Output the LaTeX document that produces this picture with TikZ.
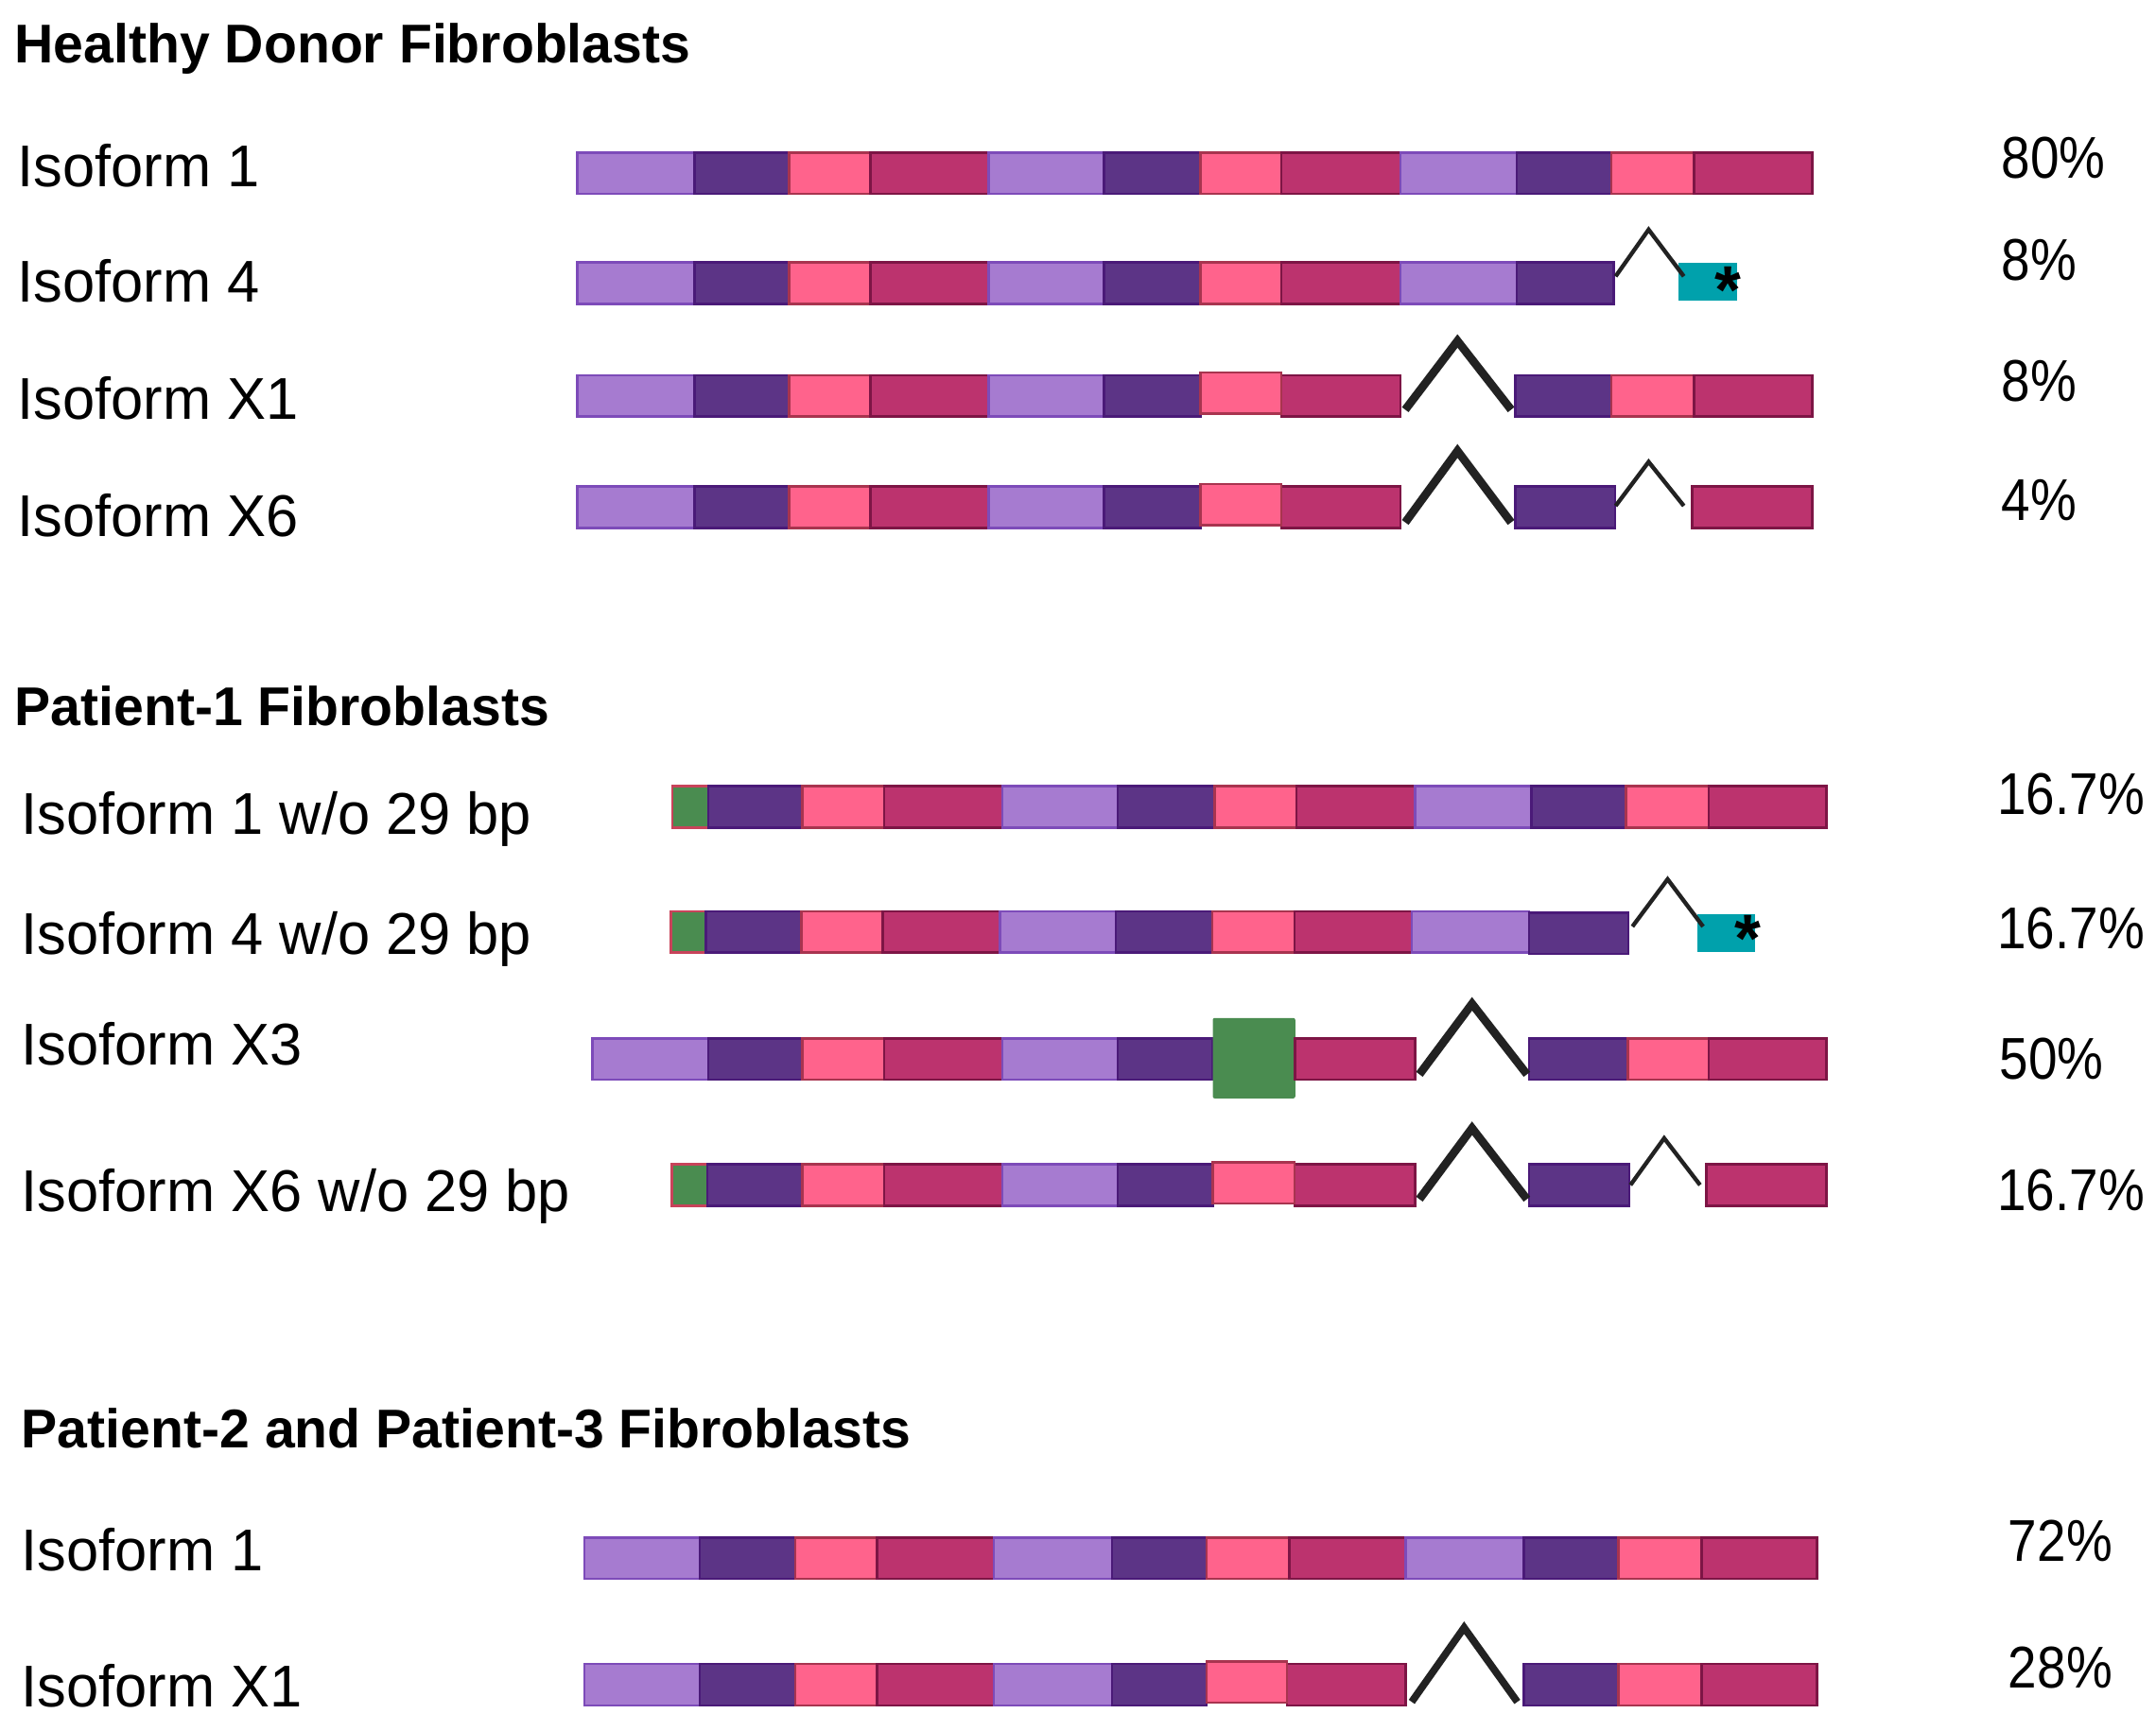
\documentclass[tikz,border=0pt]{standalone}
\usepackage{fontspec}
\setmainfont{Liberation Sans}
\newfontfamily\labfam{Liberation Sans}[FakeStretch=0.985]
\newfontfamily\pctfam{Liberation Sans}[FakeStretch=0.88]
\newfontfamily\hdrfam{Liberation Sans}[FakeStretch=0.99]
\usetikzlibrary{calc}
\definecolor{lpF}{HTML}{A67BD0}\definecolor{lpD}{HTML}{7D4BB9}
\definecolor{dpF}{HTML}{5C3486}\definecolor{dpD}{HTML}{4A1A78}
\definecolor{pkF}{HTML}{FF638C}\definecolor{pkD}{HTML}{A8344F}
\definecolor{mgF}{HTML}{BC336E}\definecolor{mgD}{HTML}{7D1545}
\definecolor{gnF}{HTML}{4A8C50}\definecolor{gnD}{HTML}{C8435A}
\definecolor{tlF}{HTML}{00A1AC}
\definecolor{intr}{HTML}{222222}
\newcommand{\labfont}{\labfam\fontsize{12.2pt}{14pt}\selectfont}
\newcommand{\pctfont}{\pctfam\fontsize{12.2pt}{14pt}\selectfont}
\newcommand{\hdrfont}{\hdrfam\fontsize{11.3pt}{13pt}\selectfont\bfseries}
\newcommand{\astfont}{\fontsize{14pt}{14pt}\selectfont\bfseries}
\tikzset{
  seg/.style={rectangle, inner sep=0pt, outer sep=0pt, anchor=north west, line width=0.5pt, minimum height=3mm},
  exLP/.style={seg, fill=lpF, draw=lpD},
  exDP/.style={seg, fill=dpF, draw=dpD},
  exPK/.style={seg, fill=pkF, draw=pkD},
  exMG/.style={seg, fill=mgF, draw=mgD},
  exGN/.style={seg, fill=gnF, draw=gnD},
  exTL/.style={seg, fill=tlF, draw=none},
  exGB/.style={seg, fill=gnF, draw=none, rounded corners=0.4pt},
  thk/.style={draw=intr, line width=1.7pt, line join=miter, line cap=butt},
  thn/.style={draw=intr, line width=0.85pt, line join=miter, line cap=butt},
  lab/.style={anchor=base west, inner sep=0pt, font=\labfont},
  pct/.style={anchor=base west, inner sep=0pt, font=\pctfont},
  hdr/.style={anchor=base west, inner sep=0pt, font=\hdrfont},
  aststy/.style={anchor=base, inner sep=0pt, font=\astfont},
}
\newcommand{\exonrow}[3]{\foreach \s/\a/\b [count=\i] in {#3} {\node[\s, minimum width={(\b-\a)*0.1mm}] (#1-\i) at (\a,#2) {};}}
\newcommand{\oneexon}[5]{\node[#2, minimum width={(#4-#3)*0.1mm}] (#1) at (#3,#5) {};}
\begin{document}
\begin{tikzpicture}[x=0.1mm,y=-0.1mm]
\useasboundingbox (0,0) rectangle (1568,1259);
\fill[white] (0,0) rectangle (1568,1259);

% ---------------- Healthy donor ----------------
\node[hdr] (hd) at (10,46) {Healthy Donor Fibroblasts};
\node[lab] (hl1) at (12,135.5) {Isoform 1};
\node[lab] (hl2) at (12,220) {Isoform 4};
\node[lab] (hl3) at (12,305) {Isoform X1};
\node[lab] (hl4) at (12,390) {Isoform X6};
\node[pct] (hp1) at (1455,129.5) {80\%};
\node[pct] (hp2) at (1455,204) {8\%};
\node[pct] (hp3) at (1455,291.6) {8\%};
\node[pct] (hp4) at (1455,378.3) {4\%};

% row 1
\exonrow{h1}{111}{exLP/420/505, exDP/505/574, exPK/574/633, exMG/633/719, exLP/719/803, exDP/803/873, exPK/873/932, exMG/932/1018.5, exLP/1018.5/1103, exDP/1103/1172, exPK/1172/1232, exMG/1232/1318}

% row 2
\exonrow{h2}{191}{exLP/420/505, exDP/505/574, exPK/574/633, exMG/633/719, exLP/719/803, exDP/803/873, exPK/873/932, exMG/932/1018.5, exLP/1018.5/1103, exDP/1103/1173.5}
\node[exTL, minimum width=4.2mm, minimum height=2.8mm] (h2-t) at (1221,191) {};
\coordinate (h2-pk) at (1199,167);
\draw[thn] ($(h2-10.north east)+(1.5,10)$) -- (h2-pk) -- ($(h2-t.north west)+(3.6,10)$);
\node[aststy] (h2-ast) at (1257,228) {*};

% row 3
\exonrow{h3}{273}{exLP/420/505, exDP/505/574, exPK/574/633, exMG/633/719, exLP/719/803, exDP/803/873}
\oneexon{h3-8}{exMG}{932}{1018.5}{273}
\oneexon{h3-7}{exPK}{873}{932}{271}
\oneexon{h3-9}{exDP}{1102}{1172}{273}
\oneexon{h3-10}{exPK}{1172}{1232}{273}
\oneexon{h3-11}{exMG}{1232}{1318}{273}
\coordinate (h3-pk) at (1060,248);
\draw[thk] ($(h3-8.south east)+(3.5,-5)$) -- (h3-pk) -- ($(h3-9.south west)+(-3,-5)$);

% row 4
\exonrow{h4}{354}{exLP/420/505, exDP/505/574, exPK/574/633, exMG/633/719, exLP/719/803, exDP/803/873}
\oneexon{h4-8}{exMG}{932}{1018.5}{354}
\oneexon{h4-7}{exPK}{873}{932}{352}
\oneexon{h4-9}{exDP}{1102}{1174.5}{354}
\oneexon{h4-10}{exMG}{1230.6}{1318}{354}
\coordinate (h4-pk1) at (1060,328);
\coordinate (h4-pk2) at (1199,336);
\draw[thk] ($(h4-8.south east)+(3.5,-4)$) -- (h4-pk1) -- ($(h4-9.south west)+(-3,-4)$);
\draw[thn] ($(h4-9.east)+(0.5,-1)$) -- (h4-pk2) -- ($(h4-10.west)+(-6,-1)$);

% ---------------- Patient-1 ----------------
\node[hdr] (p1h) at (10,527.5) {Patient-1 Fibroblasts};
\node[lab] (pl1) at (15,607) {Isoform 1 w/o 29 bp};
\node[lab] (pl2) at (15,694) {Isoform 4 w/o 29 bp};
\node[lab] (pl3) at (15,775) {Isoform X3};
\node[lab] (pl4) at (15,881) {Isoform X6 w/o 29 bp};
\node[pct] (pp1) at (1452,592.6) {16.7\%};
\node[pct] (pp2) at (1452,690) {16.7\%};
\node[pct] (pp3) at (1453.5,785.2) {50\%};
\node[pct] (pp4) at (1452,880.3) {16.7\%};

% P row 1
\exonrow{p1}{572}{exGN/489/515, exDP/515/583.5, exPK/583.5/643, exMG/643/729, exLP/729/813, exDP/813/883.5, exPK/883.5/943, exMG/943/1029, exLP/1029/1113.6, exDP/1113.6/1182.7, exPK/1182.7/1242.6, exMG/1242.6/1328.5}

% P row 2
\exonrow{p2}{663}{exGN/488/513.3, exDP/513.3/582.8, exPK/582.8/642, exMG/642/727.4, exLP/727.4/811.6, exDP/811.6/881.7, exPK/881.7/941.5, exMG/941.5/1026.7, exLP/1026.7/1112}
\oneexon{p2-10}{exDP}{1112}{1184.2}{664}
\node[exTL, minimum width=4.2mm, minimum height=2.76mm] (p2-t) at (1234.3,664.8) {};
\coordinate (p2-pk) at (1212.8,639.6);
\draw[thn] ($(p2-10.north east)+(3,10)$) -- (p2-pk) -- ($(p2-t.north west)+(4.3,9.2)$);
\node[aststy] (p2-ast) at (1271,700) {*};

% P row 3
\exonrow{p3}{755.5}{exLP/431/515, exDP/515/583.5, exPK/583.5/643, exMG/643/729, exLP/729/813, exDP/813/882}
\node[exGB, minimum width=6mm, minimum height=5.85mm] (p3-g) at (882,740.5) {};
\oneexon{p3-8}{exMG}{942}{1029}{755.5}
\oneexon{p3-9}{exDP}{1112}{1184}{755.5}
\oneexon{p3-10}{exPK}{1184}{1242.6}{755.5}
\oneexon{p3-11}{exMG}{1242.6}{1328.5}{755.5}
\coordinate (p3-pk) at (1070.6,730.2);
\draw[thk] ($(p3-8.south east)+(3.3,-4)$) -- (p3-pk) -- ($(p3-9.south west)+(-1.5,-4)$);

% P row 4
\exonrow{p4}{847}{exGN/488.6/514.4, exDP/514.4/583.5, exPK/583.5/643, exMG/643/729, exLP/729/813, exDP/813/882}
\oneexon{p4-8}{exMG}{941.5}{1029}{847}
\oneexon{p4-7}{exPK}{882}{941.5}{845.5}
\oneexon{p4-9}{exDP}{1112}{1185}{847}
\oneexon{p4-10}{exMG}{1241}{1328.5}{847}
\coordinate (p4-pk1) at (1070.6,820.7);
\coordinate (p4-pk2) at (1210.3,828);
\draw[thk] ($(p4-8.south east)+(3.3,-4.7)$) -- (p4-pk1) -- ($(p4-9.south west)+(-1.5,-4.7)$);
\draw[thn] ($(p4-9.east)+(0.8,0)$) -- (p4-pk2) -- ($(p4-10.west)+(-4.6,0)$);

% ---------------- Patient-2 and Patient-3 ----------------
\node[hdr] (q0) at (15,1053.4) {Patient-2 and Patient-3 Fibroblasts};
\node[lab] (ql1) at (15,1142.8) {Isoform 1};
\node[lab] (ql2) at (15,1241.4) {Isoform X1};
\node[pct] (qp1) at (1460,1136) {72\%};
\node[pct] (qp2) at (1460,1227.6) {28\%};

\exonrow{q1}{1118.5}{exLP/425/509, exDP/509/578.4, exPK/578.4/638, exMG/638/722.8, exLP/722.8/808.7, exDP/808.7/877.5, exPK/877.5/937.7, exMG/937.7/1022.4, exLP/1022.4/1108.4, exDP/1108.4/1177.2, exPK/1177.2/1237.4, exMG/1237.4/1321.5}

\exonrow{q2}{1210.5}{exLP/425/509, exDP/509/578.4, exPK/578.4/638, exMG/638/722.8, exLP/722.8/808.7, exDP/808.7/877.5}
\oneexon{q2-8}{exMG}{936}{1022.4}{1210.5}
\oneexon{q2-7}{exPK}{877.5}{936}{1208.6}
\oneexon{q2-9}{exDP}{1108.4}{1177.2}{1210.5}
\oneexon{q2-10}{exPK}{1177.2}{1237.4}{1210.5}
\oneexon{q2-11}{exMG}{1237.4}{1321.5}{1210.5}
\coordinate (q2-pk) at (1064.8,1184);
\draw[thk, line width=1.5pt] ($(q2-8.south east)+(4.3,-2.5)$) -- (q2-pk) -- ($(q2-9.south west)+(-4.9,-2.5)$);
\end{tikzpicture}
\end{document}
